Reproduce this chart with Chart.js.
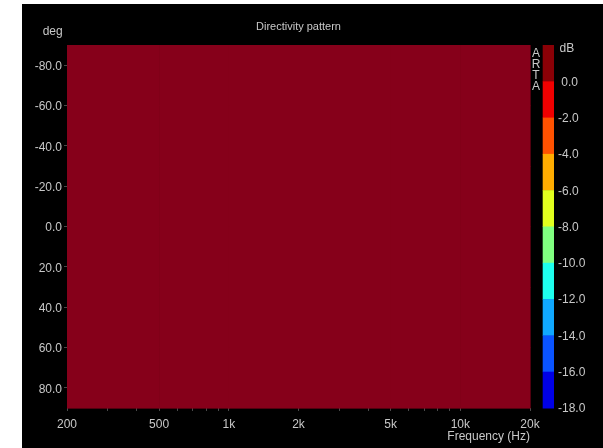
<!DOCTYPE html>
<html>
<head>
<meta charset="utf-8">
<title>Directivity pattern</title>
<script src="https://cdn.jsdelivr.net/npm/chart.js@4/dist/chart.umd.min.js"></script>
<style>
  html, body { margin: 0; padding: 0; background: #fff; }
  #wrap { position: absolute; left: 22px; top: 4px; width: 581px; height: 444px; background: #000; }
  canvas { display: block; }
</style>
</head>
<body>
<div id="wrap"><canvas id="c" width="581" height="444"></canvas></div>
<script>
// Frequency band edges (Hz) and angle band edges (deg) of the measured grid
const freqEdges = [200, 500, 1000, 2000, 5000, 10000, 20000];
const angleEdges = [-90, -60, -30, 0, 30, 60, 90];

// Normalised level in dB, one row per angle band, one column per frequency band
const levels = [
  [0.0, 0.0, 0.0, 0.0, 0.0, 0.0],
  [0.0, 0.0, 0.0, 0.0, 0.0, 0.0],
  [0.0, 0.0, 0.0, 0.0, 0.0, 0.0],
  [0.0, 0.0, 0.0, 0.0, 0.0, 0.0],
  [0.0, 0.0, 0.0, 0.0, 0.0, 0.0],
  [0.0, 0.0, 0.0, 0.0, 0.0, 0.0]
];

// Axis ticks
const freqTicks = [200, 300, 400, 500, 600, 700, 800, 900, 1000, 2000, 3000, 4000, 5000,
                   6000, 7000, 8000, 9000, 10000, 20000];
const freqLabelValues = [200, 500, 1000, 2000, 5000, 10000, 20000];
const freqLabelText = ['200', '500', '1k', '2k', '5k', '10k', '20k'];
const degTicks = [-80, -60, -40, -20, 0, 20, 40, 60, 80];
const dbTicks = [0, -2, -4, -6, -8, -10, -12, -14, -16, -18];

// Colour scale: band limits (dB, top to bottom) and their colours
const dbBands = [2, 0, -2, -4, -6, -8, -10, -12, -14, -16, -18];
const barColors = ['#8a0006', '#f00000', '#ff5200', '#ffac00', '#e2ff1e',
                   '#80ff80', '#1effee', '#10a8ff', '#0a54ff', '#0000e6'];
const mapColors = ['#86001a', '#f00000', '#ff5200', '#ffac00', '#e2ff1e',
                   '#80ff80', '#1effee', '#10a8ff', '#0a54ff', '#0000e6'];

const TEXT = '#c8c8c8';
const FONT = { family: "'Liberation Sans', Arial, sans-serif", size: 12 };

function bandIndex(v) {
  for (let k = 0; k < dbBands.length - 1; k++) {
    if (v >= dbBands[k + 1]) return k;
  }
  return dbBands.length - 2;
}

const heatmap = {
  id: 'heatmap',
  beforeDatasetsDraw(chart) {
    const { ctx, scales: { x, y } } = chart;
    ctx.save();
    for (let j = 0; j < levels.length; j++) {
      for (let i = 0; i < levels[j].length; i++) {
        const x0 = x.getPixelForValue(freqEdges[i]);
        const x1 = x.getPixelForValue(freqEdges[i + 1]);
        const y0 = y.getPixelForValue(angleEdges[j]);
        const y1 = y.getPixelForValue(angleEdges[j + 1]);
        ctx.fillStyle = mapColors[bandIndex(levels[j][i])];
        ctx.fillRect(Math.min(x0, x1), Math.min(y0, y1),
                     Math.abs(x1 - x0) + 0.6, Math.abs(y1 - y0) + 0.6);
      }
    }
    ctx.restore();
  },
  afterDraw(chart) {
    const { ctx, chartArea, scales: { db } } = chart;
    ctx.save();
    // colour bar
    const bx = chartArea.right + 12.7;
    for (let k = 0; k < barColors.length; k++) {
      const yt = db.getPixelForValue(dbBands[k]);
      const yb = db.getPixelForValue(dbBands[k + 1]);
      ctx.fillStyle = barColors[k];
      ctx.fillRect(bx, yt, 11.3, yb - yt + 0.5);
    }
    ctx.fillStyle = TEXT;
    ctx.font = `${FONT.size}px ${FONT.family}`;
    // unit labels
    ctx.textBaseline = 'middle';
    ctx.textAlign = 'left';
    ctx.fillText('dB', chartArea.right + 29.5, chartArea.top + 3.5);
    ctx.textAlign = 'right';
    ctx.textBaseline = 'alphabetic';
    ctx.fillText('deg', chartArea.left - 4.3, 31);
    // vertical stamp
    ctx.textAlign = 'center';
    ctx.textBaseline = 'middle';
    const stamp = 'ARTA';
    for (let n = 0; n < stamp.length; n++) {
      ctx.fillText(stamp[n], chartArea.right + 6, chartArea.top + 9 + n * 11);
    }
    ctx.restore();
  }
};

new Chart(document.getElementById('c'), {
  type: 'scatter',
  data: { datasets: [{ data: [] }] },
  plugins: [heatmap],
  options: {
    responsive: false,
    animation: false,
    devicePixelRatio: 1,
    layout: { padding: 0 },
    plugins: {
      legend: { display: false },
      tooltip: { enabled: false },
      title: {
        display: true,
        text: 'Directivity pattern',
        color: TEXT,
        font: { family: FONT.family, size: 11, weight: 'normal' },
        fullSize: false,
        padding: { top: 16.5, bottom: 11.3 }
      }
    },
    scales: {
      x: {
        type: 'logarithmic',
        position: 'bottom',
        min: 200,
        max: 20000,
        afterBuildTicks: s => { s.ticks = freqTicks.map(v => ({ value: v })); },
        afterFit: s => { s.height = 40; },
        grid: { drawOnChartArea: false, tickLength: 3, color: '#4a4a4a' },
        border: { display: false },
        ticks: {
          color: TEXT,
          font: FONT,
          padding: 6,
          autoSkip: false,
          maxRotation: 0,
          callback: v => {
            const i = freqLabelValues.indexOf(v);
            return i >= 0 ? freqLabelText[i] : '';
          }
        },
        title: {
          display: true,
          text: 'Frequency (Hz)',
          align: 'end',
          color: TEXT,
          font: FONT,
          padding: { top: 0, bottom: 3.8 }
        }
      },
      y: {
        type: 'linear',
        position: 'left',
        reverse: true,
        min: -90,
        max: 90,
        afterBuildTicks: s => { s.ticks = degTicks.map(v => ({ value: v })); },
        afterFit: s => { s.width = 45; },
        grid: { drawOnChartArea: false, tickLength: 3, color: '#4a4a4a' },
        border: { display: false },
        ticks: {
          color: TEXT,
          font: FONT,
          padding: 2,
          labelOffset: 1.5,
          callback: v => v.toFixed(1)
        }
      },
      db: {
        type: 'linear',
        position: 'right',
        min: -18,
        max: 2,
        afterBuildTicks: s => { s.ticks = dbTicks.map(v => ({ value: v })); },
        afterFit: s => { s.width = 73; },
        grid: { display: false, drawTicks: false },
        border: { display: false },
        ticks: {
          color: TEXT,
          font: FONT,
          padding: 28,
          labelOffset: 1,
          callback: v => (v < 0 ? '' : ' ') + v.toFixed(1)
        }
      }
    }
  }
});
</script>
</body>
</html>
